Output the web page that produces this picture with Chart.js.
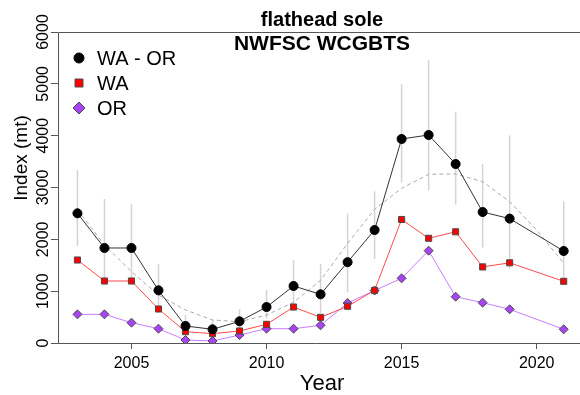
<!DOCTYPE html>
<html lang="en">
<head>
<meta charset="UTF-8">
<title>flathead sole - NWFSC WCGBTS</title>
<script src="https://cdn.jsdelivr.net/npm/chart.js"></script>
<style>
  html, body { margin: 0; padding: 0; background: #fff; }
  #wrap { width: 580px; height: 395px; }
</style>
</head>
<body>
<div id="wrap"><canvas id="index-chart"></canvas></div>
<script>
// survey years (no survey in 2020)
const years = [2003, 2004, 2005, 2006, 2007, 2008, 2009, 2010, 2011, 2012,
               2013, 2014, 2015, 2016, 2017, 2018, 2019, 2021];
const waOr = [2502, 1833, 1833, 1016, 328, 264, 418, 694, 1100, 939,
              1560, 2180, 3936, 4013, 3453, 2527, 2400, 1775];
const wa = [1601, 1196, 1196, 656, 219, 180, 232, 360, 694, 495,
            708, 1016, 2383, 2020, 2145, 1468, 1547, 1190];
const or = [553, 553, 392, 276, 58, 39, 154, 276, 276, 341,
            772, 1012, 1248, 1781, 893, 778, 650, 264];
// interval around the WA - OR index
const waOrLow = [1871, 1210, 1256, 677, 199, 157, 266, 471, 756, 579,
                 975, 1620, 3093, 2939, 2670, 1843, 1440, 1190];
const waOrHigh = [3338, 2778, 2676, 1524, 540, 444, 656, 1023, 1601, 1524,
                  2495, 2925, 4997, 5460, 4460, 3453, 4005, 2733];
// smoothed trend (dashed grey)
const trendYears = [2003, 2004, 2005, 2006, 2007, 2008, 2009, 2010, 2011, 2012,
                    2013, 2014, 2015, 2016, 2017, 2018, 2019, 2020, 2021];
const trend = [2570, 1890, 1376, 926, 637, 444, 411, 540, 785, 1210,
               1920, 2580, 2984, 3255, 3261, 3112, 2726, 2180, 1538];

const xTicks = [2005, 2010, 2015, 2020];
const yTicks = [0, 1000, 2000, 3000, 4000, 5000, 6000];

const FONT = "'Liberation Sans', Arial, sans-serif";
const AXIS = '#555555';

function pts(xs, ys) {
    return xs.map((x, i) => ({ x: x, y: ys[i] }));
}

// grey vertical interval lines, drawn under the series
const errorBars = {
    id: 'errorBars',
    beforeDatasetsDraw(chart) {
        const ctx = chart.ctx;
        const xs = chart.scales.x, ys = chart.scales.y;
        ctx.save();
        ctx.strokeStyle = '#d4d4d4';
        ctx.lineWidth = 1.5;
        years.forEach((yr, i) => {
            const px = xs.getPixelForValue(yr);
            ctx.beginPath();
            ctx.moveTo(px, ys.getPixelForValue(waOrLow[i]));
            ctx.lineTo(px, ys.getPixelForValue(waOrHigh[i]));
            ctx.stroke();
        });
        ctx.restore();
    }
};

function marker(ctx, style, x, y, r, fill, stroke) {
    ctx.beginPath();
    if (style === 'circle') {
        ctx.arc(x, y, r, 0, Math.PI * 2);
    } else if (style === 'rect') {
        ctx.rect(x - r * 0.8, y - r * 0.8, r * 1.6, r * 1.6);
    } else {
        ctx.moveTo(x, y - r);
        ctx.lineTo(x + r, y);
        ctx.lineTo(x, y + r);
        ctx.lineTo(x - r, y);
        ctx.closePath();
    }
    ctx.fillStyle = fill;
    ctx.fill();
    ctx.strokeStyle = stroke;
    ctx.lineWidth = 1;
    ctx.stroke();
}

// frame, titles and the legend in the top left corner
const decorations = {
    id: 'decorations',
    afterDraw(chart) {
        const ctx = chart.ctx;
        const a = chart.chartArea;
        ctx.save();
        ctx.strokeStyle = AXIS;
        ctx.lineWidth = 1;
        ctx.beginPath();
        ctx.moveTo(a.left + 0.5, a.bottom);
        ctx.lineTo(a.left + 0.5, a.top + 0.5);
        ctx.lineTo(chart.width, a.top + 0.5);
        ctx.moveTo(a.left - 5, a.bottom + 0.5);
        ctx.lineTo(chart.width, a.bottom + 0.5);
        ctx.stroke();

        ctx.fillStyle = '#000';
        ctx.textAlign = 'center';
        ctx.textBaseline = 'alphabetic';
        ctx.font = 'bold 20px ' + FONT;
        ctx.fillText('flathead sole', 322, 26);
        ctx.font = 'bold 21px ' + FONT;
        ctx.fillText('NWFSC WCGBTS', 322, 50);

        ctx.font = '22px ' + FONT;
        ctx.fillText('Year', 322, 390);

        ctx.save();
        ctx.translate(27, 158);
        ctx.rotate(-Math.PI / 2);
        ctx.font = '19px ' + FONT;
        ctx.fillText('Index (mt)', 0, 0);
        ctx.restore();

        const ds = chart.data.datasets;
        const rows = [
            { d: ds[0], r: 5 },
            { d: ds[1], r: 5 },
            { d: ds[2], r: 6 }
        ];
        ctx.font = '20px ' + FONT;
        ctx.textAlign = 'left';
        rows.forEach((row, i) => {
            const y = 58 + i * 25;
            marker(ctx, row.d.pointStyle, 79, y, row.r,
                   row.d.pointBackgroundColor, row.d.pointBorderColor);
            ctx.fillStyle = '#000';
            ctx.fillText(row.d.label, 97, y + 7);
        });
        ctx.restore();
    }
};

new Chart(document.getElementById('index-chart'), {
    type: 'line',
    data: {
        datasets: [
            {
                label: 'WA - OR',
                data: pts(years, waOr),
                borderColor: '#333333',
                borderWidth: 1,
                pointStyle: 'circle',
                pointRadius: 4.5,
                pointBackgroundColor: '#000000',
                pointBorderColor: '#000000',
                pointBorderWidth: 1
            },
            {
                label: 'WA',
                data: pts(years, wa),
                borderColor: '#ff4a4a',
                borderWidth: 1,
                pointStyle: 'rect',
                pointRadius: 4.3,
                pointBackgroundColor: '#ff0000',
                pointBorderColor: '#4a4a4a',
                pointBorderWidth: 1
            },
            {
                label: 'OR',
                data: pts(years, or),
                borderColor: '#c97cff',
                borderWidth: 1,
                pointStyle: 'rectRot',
                pointRadius: 4.5,
                pointBackgroundColor: '#a944f5',
                pointBorderColor: '#4a4a4a',
                pointBorderWidth: 1
            },
            {
                label: 'trend',
                data: pts(trendYears, trend),
                borderColor: '#ababab',
                borderWidth: 1,
                borderDash: [4, 3],
                pointRadius: 0
            }
        ]
    },
    options: {
        responsive: true,
        maintainAspectRatio: false,
        animation: false,
        layout: { padding: { top: 32, right: 1, left: 0, bottom: 0 } },
        plugins: {
            legend: { display: false },
            tooltip: { enabled: false }
        },
        scales: {
            x: {
                type: 'linear',
                min: 2002.28,
                max: 2021.4,
                afterFit: s => { s.height = 52; },
                afterBuildTicks: s => { s.ticks = xTicks.map(v => ({ value: v })); },
                border: { display: false },
                grid: { drawOnChartArea: false, color: AXIS, tickLength: 6 },
                ticks: {
                    color: '#000',
                    padding: 5,
                    maxRotation: 0,
                    font: { family: FONT, size: 16 },
                    callback: v => String(v)
                }
            },
            y: {
                min: 0,
                max: 6000,
                afterFit: s => { s.width = 58; },
                afterBuildTicks: s => { s.ticks = yTicks.map(v => ({ value: v })); },
                border: { display: false },
                grid: { drawOnChartArea: false, color: AXIS, tickLength: 7 },
                ticks: {
                    color: '#000',
                    minRotation: 90,
                    maxRotation: 90,
                    crossAlign: 'center',
                    padding: -10,
                    font: { family: FONT, size: 16 },
                    callback: v => String(v)
                }
            }
        }
    },
    plugins: [errorBars, decorations]
});
</script>
</body>
</html>
